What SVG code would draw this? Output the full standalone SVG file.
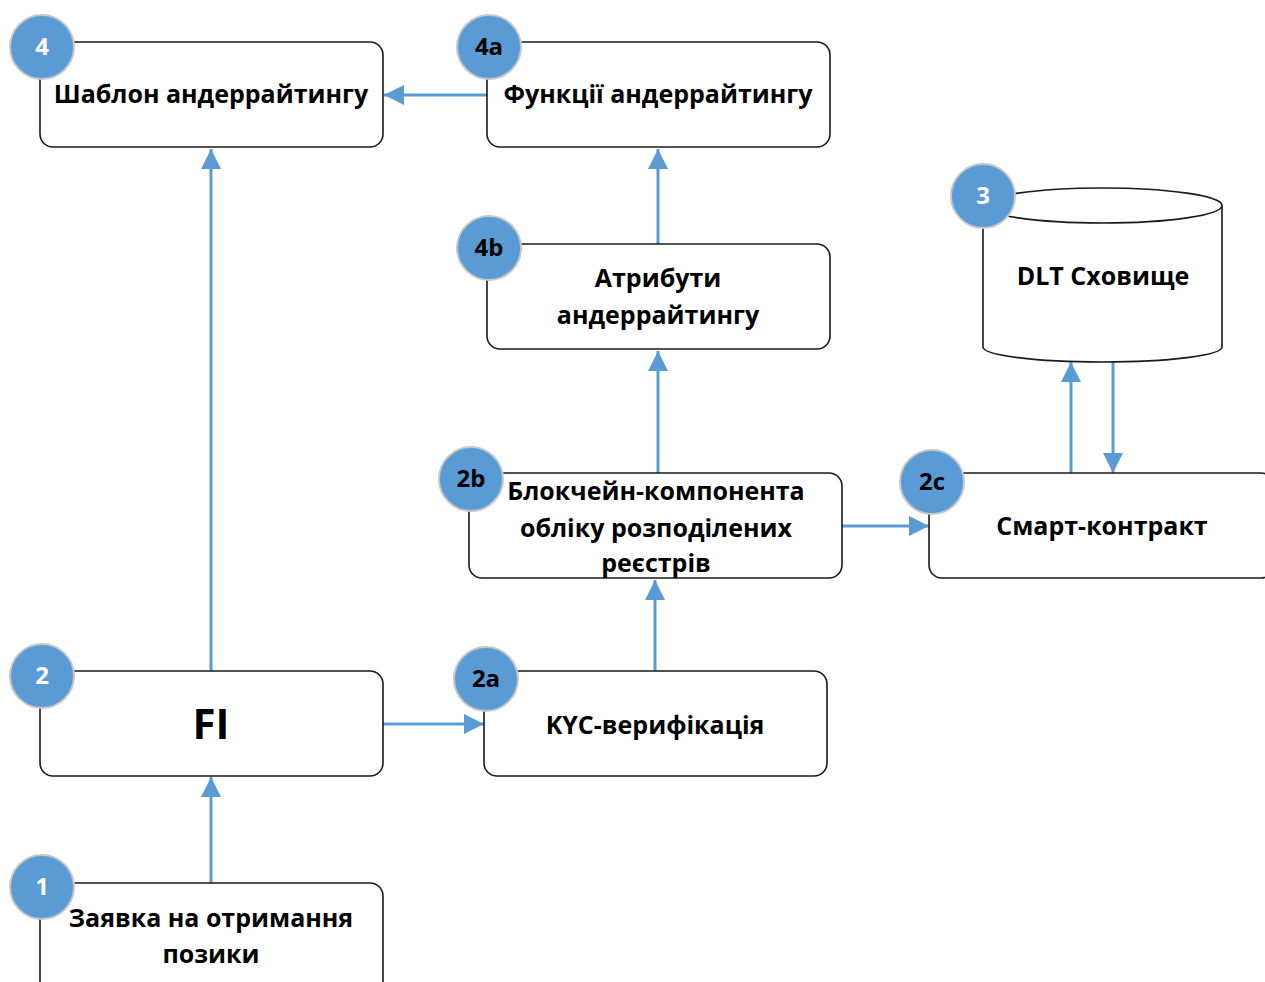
<svg xmlns="http://www.w3.org/2000/svg" width="1265" height="982" viewBox="0 0 1265 982">
<style>
.box{fill:#fff;stroke:#1a1a1a;stroke-width:1.6}
.badge{fill:#5B9BD5;stroke:#C8C8C8;stroke-width:2}
.t{font-family:"Open Sans","Liberation Sans",sans-serif;font-weight:bold;font-size:25px;fill:#000;text-anchor:middle}
.bw{font-family:"Open Sans","Liberation Sans",sans-serif;font-weight:bold;font-size:24px;fill:#fff;text-anchor:middle}
.bk{font-family:"Open Sans","Liberation Sans",sans-serif;font-weight:bold;font-size:24px;fill:#000;text-anchor:middle}
.c{fill:none;stroke:#5B9BD5;stroke-width:3}
</style>
<defs>
<marker id="ah" markerUnits="userSpaceOnUse" markerWidth="20" markerHeight="20" refX="20" refY="10" orient="auto">
<path d="M0,0 L20,10 L0,20 Z" fill="#5B9BD5"/>
</marker>
</defs>
<rect width="1265" height="982" fill="#fff"/>

<g id="connectors">
<line class="c" x1="487" y1="95" x2="384" y2="95" marker-end="url(#ah)"/>
<line class="c" x1="211" y1="671" x2="211" y2="149" marker-end="url(#ah)"/>
<line class="c" x1="658" y1="244" x2="658" y2="149" marker-end="url(#ah)"/>
<line class="c" x1="658" y1="473" x2="658" y2="351" marker-end="url(#ah)"/>
<line class="c" x1="655" y1="671" x2="655" y2="580" marker-end="url(#ah)"/>
<line class="c" x1="383" y1="724" x2="484" y2="724" marker-end="url(#ah)"/>
<line class="c" x1="842" y1="526" x2="929" y2="526" marker-end="url(#ah)"/>
<line class="c" x1="1071" y1="473" x2="1071" y2="362" marker-end="url(#ah)"/>
<line class="c" x1="1113" y1="362" x2="1113" y2="473" marker-end="url(#ah)"/>
<line class="c" x1="211" y1="883" x2="211" y2="777" marker-end="url(#ah)"/>
</g>

<g id="node-4">
<rect class="box" x="40" y="42" width="343" height="105" rx="13"/>
<text class="t" x="211" y="103">Шаблон андеррайтингу</text>
<circle class="badge" cx="42" cy="47" r="32"/>
<text class="bw" x="42" y="55">4</text>
</g>

<g id="node-4a">
<rect class="box" x="487" y="42" width="343" height="105" rx="13"/>
<text class="t" x="658" y="103">Функції андеррайтингу</text>
<circle class="badge" cx="489" cy="47" r="32"/>
<text class="bk" x="489" y="55">4a</text>
</g>

<g id="node-4b">
<rect class="box" x="487" y="244" width="343" height="105" rx="13"/>
<text class="t" x="658" y="287">Атрибути</text>
<text class="t" x="658" y="324">андеррайтингу</text>
<circle class="badge" cx="489" cy="248" r="32"/>
<text class="bk" x="489" y="256">4b</text>
</g>

<g id="node-3">
<path class="box" d="M983,205.5 L983,347 A119.5,15 0 0 0 1222,347 L1222,205.5"/>
<ellipse class="box" cx="1102.5" cy="205.5" rx="119.5" ry="17.5"/>
<text class="t" x="1103" y="285">DLT Сховище</text>
<circle class="badge" cx="983" cy="196" r="32"/>
<text class="bw" x="983" y="204">3</text>
</g>

<g id="node-2c">
<rect class="box" x="929" y="473" width="345" height="105" rx="13"/>
<text class="t" x="1102" y="535">Смарт-контракт</text>
<circle class="badge" cx="932" cy="482" r="32"/>
<text class="bk" x="932" y="490">2c</text>
</g>

<g id="node-2b">
<rect class="box" x="469" y="473" width="373" height="105" rx="13"/>
<text class="t" x="656" y="500">Блокчейн-компонента</text>
<text class="t" x="656" y="537">обліку розподілених</text>
<text class="t" x="656" y="572">реєстрів</text>
<circle class="badge" cx="471" cy="479" r="32"/>
<text class="bk" x="471" y="487">2b</text>
</g>

<g id="node-2a">
<rect class="box" x="484" y="671" width="343" height="105" rx="13"/>
<text class="t" x="655" y="734">KYC-верифікація</text>
<circle class="badge" cx="486" cy="679" r="32"/>
<text class="bk" x="486" y="687">2a</text>
</g>

<g id="node-2">
<rect class="box" x="40" y="671" width="343" height="105" rx="13"/>
<text class="t" x="211" y="739" style="font-size:42px">FI</text>
<circle class="badge" cx="42" cy="676" r="32"/>
<text class="bw" x="42" y="684">2</text>
</g>

<g id="node-1">
<rect class="box" x="40" y="883" width="343" height="120" rx="13"/>
<text class="t" x="211" y="927">Заявка на отримання</text>
<text class="t" x="211" y="963">позики</text>
<circle class="badge" cx="42" cy="887" r="32"/>
<text class="bw" x="42" y="895">1</text>
</g>
</svg>
